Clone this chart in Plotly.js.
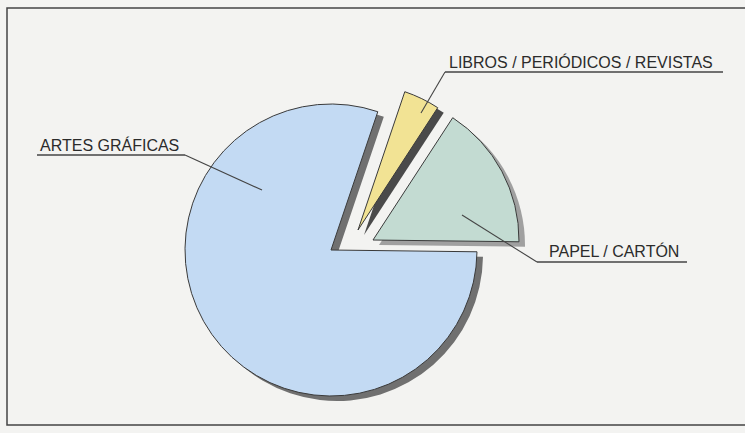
<!DOCTYPE html>
<html><head><meta charset="utf-8">
<script src="https://cdn.plot.ly/plotly-3.0.1.min.js"></script>
<style>html,body{margin:0;padding:0;background:#f3f3f1;}#chart{width:745px;height:433px;}</style>
</head><body><div id="chart"></div>
<script>
// ---- data ----
var categories = ['LIBROS / PERIÓDICOS / REVISTAS', 'PAPEL / CARTÓN', 'ARTES GRÁFICAS'];
var values = [4, 16, 80];
var sliceColors = ['#f2e394', '#c3dbd2', '#c3daf3'];
var shadowColors = ['#4a4a4a', '#a0a0a0', '#707070'];

// ---- layout helpers ----
var W = 745, H = 433;
function px(x){ return x / W; }
function py(y){ return 1 - y / H; }
var r = 146;
// pixel position of each slice's (exploded) vertex
var vertices = [[358, 230], [373, 240], [331, 250]];
function dom(c, dx, dy){
  return {x:[px(c[0] - r + dx), px(c[0] + r + dx)], y:[py(c[1] + r + dy), py(c[1] - r + dy)]};
}

var traces = [];
// shadows first, then slices; each trace shows one slice of the same data
[true, false].forEach(function(isShadow){
  categories.forEach(function(cat, i){
    var cols = categories.map(function(_, j){ return j === i ? (isShadow ? shadowColors[j] : sliceColors[j]) : 'rgba(0,0,0,0)'; });
    var lw = categories.map(function(_, j){ return (j === i && !isShadow) ? 1 : 0; });
    traces.push({
      type:'pie', labels:categories, values:values, sort:false, direction:'clockwise', rotation:18.7,
      textinfo:'none', hoverinfo:'skip', showlegend:false,
      marker:{colors:cols, line:{color:'#3a3a3a', width:lw}},
      domain: isShadow ? dom(vertices[i], 6, 5) : dom(vertices[i], 0, 0)
    });
  });
});

var font = {family:'"Liberation Sans", Arial, sans-serif', size:16, color:'#2b2b2b'};
var labelPos = [
  {text:categories[0], x:447, y:62, ul:[445, 723, 72], lead:[445, 72, 421, 113]},
  {text:categories[1], x:547, y:251, ul:[537, 687, 262], lead:[537, 262, 462, 215]},
  {text:categories[2], x:38, y:145, ul:[37, 185, 155], lead:[185, 155, 262, 190]}
];
var shapes = [{type:'rect', xref:'paper', yref:'paper', x0:px(7), x1:px(760), y0:py(425), y1:py(8), line:{color:'#444', width:1.5}}];
var annotations = [];
labelPos.forEach(function(l){
  annotations.push({text:l.text, x:px(l.x), y:py(l.y), xref:'paper', yref:'paper', xanchor:'left', yanchor:'middle', showarrow:false, font:font});
  shapes.push({type:'line', xref:'paper', yref:'paper', x0:px(l.ul[0]), x1:px(l.ul[1]), y0:py(l.ul[2]), y1:py(l.ul[2]), line:{color:'#444', width:1.3}});
  shapes.push({type:'line', xref:'paper', yref:'paper', x0:px(l.lead[0]), y0:py(l.lead[1]), x1:px(l.lead[2]), y1:py(l.lead[3]), line:{color:'#444', width:1.1}});
});

Plotly.newPlot('chart', traces, {
  width:W, height:H, margin:{l:0, r:0, t:0, b:0},
  paper_bgcolor:'#f3f3f1', plot_bgcolor:'#f3f3f1',
  shapes:shapes, annotations:annotations
}, {staticPlot:true});
</script></body></html>
